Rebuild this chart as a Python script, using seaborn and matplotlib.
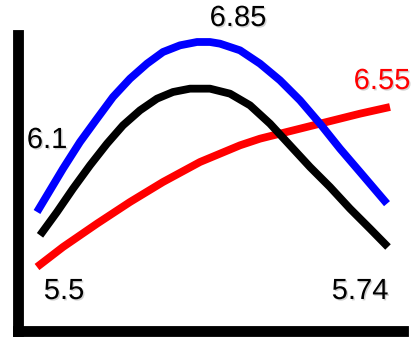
import matplotlib
matplotlib.use("Agg")
import matplotlib.pyplot as plt
import matplotlib.patheffects as pe
import pandas as pd
import seaborn as sns

# values (x in arbitrary steps, y on the label scale)
blue_x = [0, 13, 26, 43, 60, 76, 93, 110, 126, 143, 160, 173, 183, 203, 223, 243, 263, 283, 303, 323, 350]
blue_y = [5.83, 5.96, 6.09, 6.25, 6.39, 6.52, 6.63, 6.72, 6.79, 6.83, 6.85, 6.85, 6.84, 6.80, 6.72, 6.62, 6.50, 6.36, 6.21, 6.07, 5.88]

black_x = [3, 20, 36, 53, 70, 86, 103, 120, 136, 153, 173, 193, 213, 233, 253, 273, 293, 313, 333, 351]
black_y = [5.69, 5.83, 5.97, 6.11, 6.24, 6.35, 6.44, 6.51, 6.55, 6.57, 6.57, 6.54, 6.47, 6.36, 6.23, 6.10, 5.98, 5.85, 5.73, 5.62]

red_x = [0, 26, 60, 93, 126, 163, 183, 203, 223, 243, 263, 283, 303, 323, 353]
red_y = [5.50, 5.62, 5.76, 5.89, 6.01, 6.13, 6.18, 6.23, 6.27, 6.30, 6.33, 6.36, 6.39, 6.42, 6.46]

labels = ["6.85", "6.55", "6.1", "5.5", "5.74"]
label_colors = ["black", "red", "black", "black", "black"]

df = pd.concat([
    pd.DataFrame({"x": red_x, "y": red_y, "series": "red"}),
    pd.DataFrame({"x": black_x, "y": black_y, "series": "black"}),
    pd.DataFrame({"x": blue_x, "y": blue_y, "series": "blue"}),
])

sns.set_style("white")
plt.rcParams["font.family"] = ["Liberation Sans", "DejaVu Sans"]

W, H = 416, 338
fig = plt.figure(figsize=(W / 100, H / 100), dpi=100)
ax = fig.add_axes([18 / W, 7 / H, (403 - 18) / W, (331 - 35) / H])

sns.lineplot(data=df, x="x", y="y", hue="series",
             palette={"red": "#ff0000", "black": "#000000", "blue": "#0000ff"},
             hue_order=["red", "black", "blue"], lw=5.6, legend=False,
             solid_capstyle="butt", solid_joinstyle="round", sort=False, ax=ax)

ax.set_xlim(-19, 366)
ax.set_ylim(5.116, 6.892)
ax.set_xticks([])
ax.set_yticks([])
ax.set_xlabel("")
ax.set_ylabel("")
for s in ["top", "right"]:
    ax.spines[s].set_visible(False)
for s in ["left", "bottom"]:
    ax.spines[s].set_color("black")
    ax.spines[s].set_linewidth(7.8)
    ax.spines[s].set_capstyle("projecting")

# label positions in pixels (centre)
label_pos = [(238, 18), (382, 81), (47, 140), (64, 291), (360, 291)]
shadow = [pe.withSimplePatchShadow(offset=(1, -1), shadow_rgbFace="gray", alpha=0.35)]
for txt, col, (px, py) in zip(labels, label_colors, label_pos):
    fig.text(px / W, 1 - py / H, txt, color=col, fontsize=21,
             ha="center", va="center", path_effects=shadow)

fig.savefig("out.png", dpi=100)
